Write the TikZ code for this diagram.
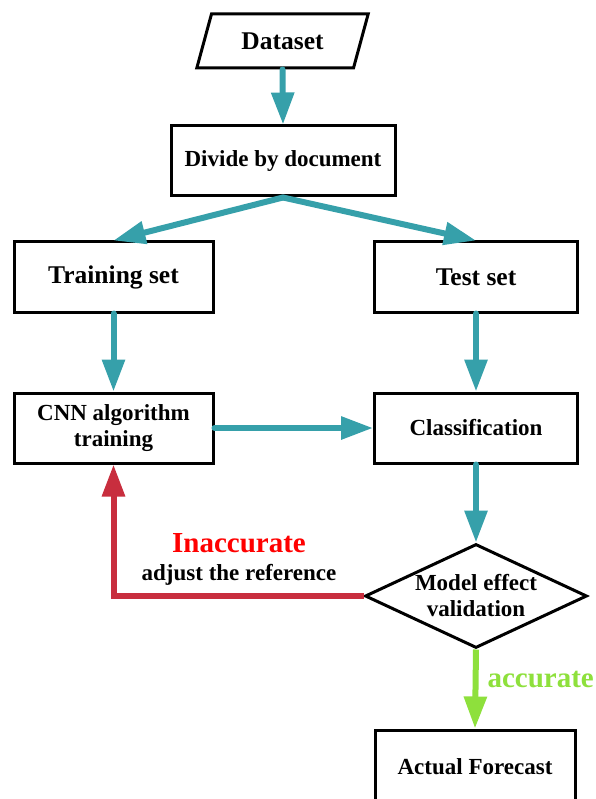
\documentclass[tikz,border=0pt]{standalone}
\usepackage{fontspec}
\setmainfont{Liberation Serif}
\usetikzlibrary{arrows.meta,shapes.geometric}

\definecolor{flowteal}{RGB}{54,160,170}
\definecolor{loopred}{RGB}{200,46,62}
\definecolor{hotred}{RGB}{255,0,0}
\definecolor{okgreen}{RGB}{142,224,60}

\tikzset{
  boxnode/.style={draw=black, line width=3pt, rectangle, inner sep=0pt,
    align=center, font=\bfseries\fontsize{23}{26}\selectfont},
  bigtext/.style={font=\bfseries\fontsize{25.5}{28}\selectfont},
  flowarrow/.style={line width=6pt, line cap=round,
    -{Triangle[length=32pt,width=22pt]}},
}

\begin{document}
\begin{tikzpicture}[x=1pt,y=-1pt]
  \useasboundingbox (0,0) rectangle (595,799);
  \clip (0,0) rectangle (595,799);

  % input
  \node[draw=black, line width=3pt, trapezium, trapezium left angle=63.4,
        trapezium right angle=116.6, trapezium stretches=true,
        minimum width=173pt, minimum height=54pt, inner sep=0pt, bigtext]
        (data) at (282.5,41) {Dataset};

  % boxes
  \node[boxnode, minimum width=224pt, minimum height=70pt] (div) at (283,161) {Divide by document};
  \node[boxnode, bigtext, minimum width=199pt, minimum height=70pt] (train) at (113.5,277) {Training set};
  \node[boxnode, bigtext, minimum width=203pt, minimum height=70pt] (test) at (476,277) {Test set};
  \node[boxnode, minimum width=199pt, minimum height=70pt] (cnn) at (113.5,428) {CNN algorithm\\training};
  \node[boxnode, minimum width=203pt, minimum height=70pt] (cls) at (476,428) {Classification};
  \node[draw=black, line width=3pt, diamond, aspect=2.13, inner sep=0pt,
        minimum width=222pt, minimum height=104pt, align=center,
        font=\bfseries\fontsize{23}{26}\selectfont]
        (val) at (476,596) {Model effect\\validation};
  \node[boxnode, minimum width=200pt, minimum height=74pt] (fc) at (475,767) {Actual Forecast};

  % connectors
  \draw[flowarrow, draw=flowteal] (data.south) -- (div.north);
  \draw[flowarrow, draw=flowteal] (div.south) -- (train.north);
  \draw[flowarrow, draw=flowteal] (div.south) -- (test.north);
  \draw[flowarrow, draw=flowteal] (train.south) -- (cnn.north);
  \draw[flowarrow, draw=flowteal] (test.south) -- (cls.north);
  \draw[flowarrow, draw=flowteal] (cnn.east) -- (cls.west);
  \draw[flowarrow, draw=flowteal] (cls.south) -- (val.north);
  \draw[flowarrow, draw=loopred, line cap=butt, line join=miter] (val.west) -| (cnn.south);
  \draw[flowarrow, draw=okgreen, line cap=butt] (val.south) -- (fc.north);

  % labels
  \node[text=hotred, font=\bfseries\fontsize{29}{31}\selectfont] (inacc) at (239,543) {Inaccurate};
  \node[font=\bfseries\fontsize{23}{25}\selectfont] (adj) at (239,575) {adjust the reference};
  \node[text=okgreen, anchor=west, font=\bfseries\fontsize{29}{31}\selectfont] (acc) at (484,680) {accurate};
\end{tikzpicture}
\end{document}
